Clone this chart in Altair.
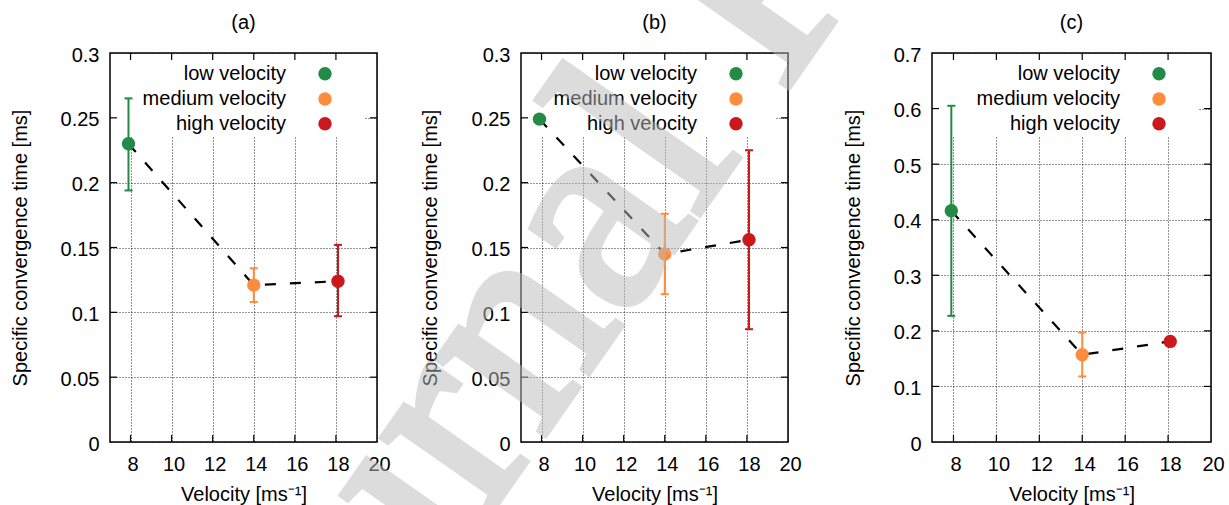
import altair as alt
import pandas as pd

FONT = "Liberation Sans"

# Shared x values and groups
velocity = [7.9, 14.0, 18.1]
groups = ["low velocity", "medium velocity", "high velocity"]
colors = ["#238b45", "#fd8d3c", "#cb181d"]

# Panel (a)
time_a = [0.230, 0.121, 0.124]
low_a = [0.194, 0.108, 0.097]
high_a = [0.265, 0.134, 0.152]

# Panel (b)
time_b = [0.249, 0.145, 0.156]
low_b = [None, 0.114, 0.087]
high_b = [None, 0.176, 0.225]

# Panel (c)
time_c = [0.416, 0.157, 0.181]
low_c = [0.227, 0.118, None]
high_c = [0.605, 0.197, None]

x_ticks = [8, 10, 12, 14, 16, 18, 20]
y_ticks_ab = [0, 0.05, 0.1, 0.15, 0.2, 0.25, 0.3]
y_ticks_c = [0, 0.1, 0.2, 0.3, 0.4, 0.5, 0.6, 0.7]

H = 389
TICK = 7


def panel(name, time, low, high, y_max, y_ticks, y_fmt, W, title_x, watermark=False):
    df = pd.DataFrame({"v": velocity, "t": time, "lo": low, "hi": high, "g": groups})
    err = df.dropna(subset=["lo", "hi"])

    xs = alt.Scale(domain=[7, 20], nice=False, zero=False)
    ys = alt.Scale(domain=[0, y_max], nice=False, zero=False)

    x_axis = alt.Axis(
        values=x_ticks, format="d", grid=True, ticks=False, tickSize=0, domain=False,
        labelFont=FONT, labelFontSize=20, labelColor="black", labelPadding=12,
        labelOffset=2, labelFlush=False, labelOverlap=False,
        title="Velocity [ms⁻¹]", titleFont=FONT, titleFontSize=20,
        titleFontWeight="normal", titleColor="black", titleY=58,
        titleBaseline="alphabetic",
        gridColor="black", gridDash=[1, 2], gridOpacity=0.85, gridWidth=1,
    )
    y_axis = alt.Axis(
        values=y_ticks, format=y_fmt, grid=True, ticks=False, tickSize=0, domain=False,
        labelFont=FONT, labelFontSize=20, labelColor="black", labelPadding=11,
        labelOffset=2, labelFlush=False, labelOverlap=False,
        title="Specific convergence time [ms]", titleFont=FONT, titleFontSize=20,
        titleFontWeight="normal", titleColor="black", titleX=title_x,
        titleY=H / 2, titleAngle=270, titleBaseline="middle", titleAlign="center",
        gridColor="black", gridDash=[1, 2], gridOpacity=0.85, gridWidth=1,
    )
    X = lambda f="v": alt.X(f"{f}:Q", scale=xs, axis=x_axis)
    Y = lambda f="t": alt.Y(f"{f}:Q", scale=ys, axis=y_axis)
    col = alt.Color("g:N", scale=alt.Scale(domain=groups, range=colors), legend=None)

    one = pd.DataFrame({"k": [0]})
    xt = pd.DataFrame({"v": x_ticks[:-1]})
    yt = pd.DataFrame({"t": y_ticks[1:-1]})

    layers = []
    # key box (opaque, hides the grid under the key)
    layers.append(
        alt.Chart(one).mark_rect(fill="white")
        .encode(x=alt.value(1), x2=alt.value(W - 12), y=alt.value(1), y2=alt.value(84))
    )
    # inward ticks on all four sides
    layers.append(alt.Chart(xt).mark_rule(color="black", strokeWidth=1.2)
                  .encode(x=X(), y=alt.value(H), y2=alt.value(H - TICK)))
    layers.append(alt.Chart(xt).mark_rule(color="black", strokeWidth=1.2)
                  .encode(x=X(), y=alt.value(0), y2=alt.value(TICK)))
    layers.append(alt.Chart(yt).mark_rule(color="black", strokeWidth=1.2)
                  .encode(y=Y(), x=alt.value(0), x2=alt.value(TICK)))
    layers.append(alt.Chart(yt).mark_rule(color="black", strokeWidth=1.2)
                  .encode(y=Y(), x=alt.value(W - TICK), x2=alt.value(W)))
    # dashed connecting line
    layers.append(alt.Chart(df).mark_line(color="black", strokeWidth=2.2, strokeDash=[11, 14])
                  .encode(x=X(), y=Y()))
    # error bars with caps
    layers.append(alt.Chart(err).mark_rule(strokeWidth=2)
                  .encode(x=X(), y=Y("lo"), y2="hi:Q", color=col))
    layers.append(alt.Chart(err).mark_rule(strokeWidth=2, xOffset=-4, x2Offset=4)
                  .encode(x=X(), x2="v:Q", y=Y("lo"), color=col))
    layers.append(alt.Chart(err).mark_rule(strokeWidth=2, xOffset=-4, x2Offset=4)
                  .encode(x=X(), x2="v:Q", y=Y("hi"), color=col))
    # points
    layers.append(alt.Chart(df).mark_circle(size=180, opacity=1)
                  .encode(x=X(), y=Y(), color=col))
    # key entries
    rows = [20.8, 46, 70.8]
    for label, c, ry in zip(groups, colors, rows):
        lab = pd.DataFrame({"label": [label]})
        layers.append(alt.Chart(lab).mark_text(font=FONT, fontSize=20, align="right",
                                               baseline="middle", color="black")
                      .encode(text="label:N", x=alt.value(W - 91), y=alt.value(ry)))
        layers.append(alt.Chart(lab).mark_circle(size=180, opacity=1, color=c)
                      .encode(x=alt.value(W - 52), y=alt.value(ry)))
    # panel label
    layers.append(alt.Chart(pd.DataFrame({"label": [name]}))
                  .mark_text(font=FONT, fontSize=20, baseline="middle", color="black")
                  .encode(text="label:N", x=alt.value(W / 2), y=alt.value(-30)))
    if watermark:
        layers.append(alt.Chart(pd.DataFrame({"label": ["Journal Pre-proof"]}))
                      .mark_text(font="Liberation Serif", fontSize=286,
                                 angle=305, align="left", baseline="alphabetic",
                                 color="#bababa", stroke="#bababa", strokeWidth=7,
                                 opacity=0.5)
                      .encode(text="label:N", x=alt.value(-262), y=alt.value(790)))
    return alt.layer(*layers).properties(width=W, height=H)


pa = panel("(a)", time_a, low_a, high_a, 0.3, y_ticks_ab, ".2~f", 267, -90)
pb = panel("(b)", time_b, low_b, high_b, 0.3, y_ticks_ab, ".2~f", 267, -91, watermark=True)
pc = panel("(c)", time_c, low_c, high_c, 0.7, y_ticks_c, ".1~f", 279, -78.5)

chart = (
    alt.hconcat(pa, pb, pc, spacing=144, bounds="flush")
    .properties(
        padding={"left": 110, "top": 53, "right": 1229 - 110, "bottom": 505 - 53},
        autosize=alt.AutoSizeParams(type="none"),
        background="white",
    )
    .configure_view(stroke="black", strokeWidth=1.5)
)

chart.save("out.html", embed_options={"renderer": "svg", "actions": False})
